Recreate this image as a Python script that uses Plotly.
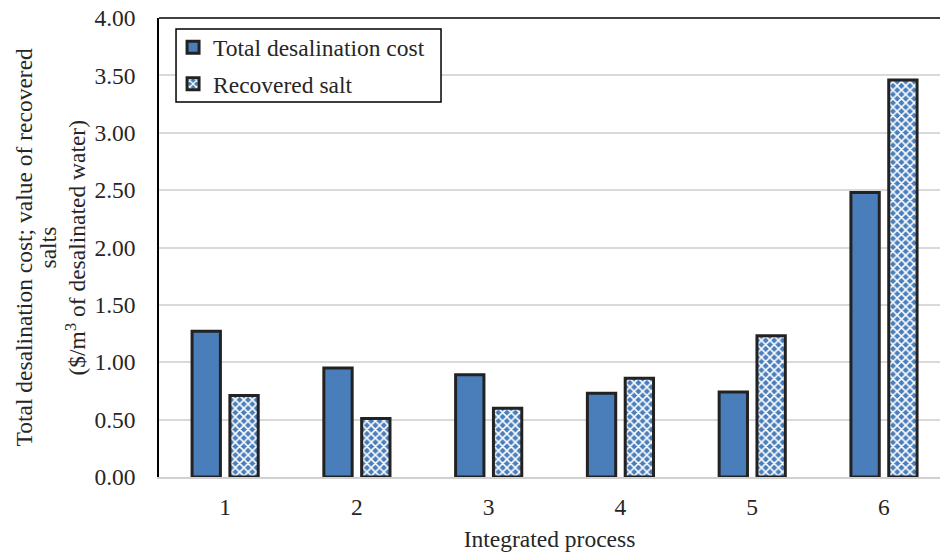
import plotly.graph_objects as go

# Integrated process categories and cost/value figures ($/m3 of desalinated water)
processes = [1, 2, 3, 4, 5, 6]
total_cost = [1.27, 0.95, 0.89, 0.73, 0.74, 2.48]
recovered_salt = [0.71, 0.51, 0.60, 0.86, 1.23, 3.46]
y_ticks = [0, 0.5, 1.0, 1.5, 2.0, 2.5, 3.0, 3.5, 4.0]

BLUE = "#4a7ebb"
EDGE = "#222222"
FONT = "Liberation Serif"
FS = 23.5
TXT = "#262626"

fig = go.Figure()
fig.add_trace(go.Bar(
    x=processes, y=total_cost, name="Total desalination cost",
    width=0.215, offset=-0.25,
    marker=dict(color=BLUE, line=dict(color=EDGE, width=3)),
    legendgroup="a",
))
fig.add_trace(go.Bar(
    x=processes, y=recovered_salt, name="Recovered salt",
    width=0.215, offset=0.037,
    marker=dict(color=BLUE, line=dict(color=EDGE, width=3),
                pattern=dict(shape="x", fgcolor="white", bgcolor=BLUE,
                             size=6, solidity=0.45, fillmode="replace")),
    legendgroup="b",
))

fig.update_layout(
    width=940, height=554,
    margin=dict(l=159, r=0, t=18, b=77),
    plot_bgcolor="white", paper_bgcolor="white",
    font=dict(family=FONT, size=FS, color=TXT),
    showlegend=True,
    barmode="overlay",
    legend=dict(
        x=0.018, y=0.9836, xanchor="left", yanchor="top",
        borderwidth=0, bgcolor="rgba(0,0,0,0)",
        font=dict(family=FONT, size=FS, color=TXT),
        tracegroupgap=3, itemwidth=30,
    ),
    xaxis=dict(
        range=[0.499, 6.426], tickvals=processes,
        ticktext=[str(p) for p in processes],
        showgrid=False, showline=True, linecolor="#d0d0d0", linewidth=1.5,
        ticks="", ticklabelstandoff=8, zeroline=False,
        title=dict(text="Integrated process", standoff=12,
                   font=dict(family=FONT, size=FS)),
    ),
    yaxis=dict(
        range=[0, 4], tickvals=y_ticks,
        ticktext=[f"{v:.2f}" for v in y_ticks],
        showgrid=True, gridcolor="#d9d9d9", gridwidth=1.5,
        showline=True, linecolor="black", linewidth=1.5,
        ticks="", ticklabelstandoff=17, zeroline=False,
    ),
)

# Top border of the plot area
fig.add_shape(type="line", xref="paper", yref="paper", x0=0, x1=1, y0=1, y1=1,
              line=dict(color="black", width=1.5))

# Legend frame: white box with a black outline behind the legend entries
fig.add_shape(type="rect", xref="paper", yref="paper",
              x0=0.0218, x1=0.3611, y0=0.817, y1=0.976,
              fillcolor="white", line=dict(color="black", width=1.5),
              layer="above")

# Three-line vertical axis title
title_lines = [
    ("Total desalination cost; value of recovered", -136),
    ("salts", -112),
    ("($/m<sup>3</sup> of desalinated water)", -84),
]
for text, shift in title_lines:
    fig.add_annotation(
        text=text, xref="paper", yref="paper", x=0, y=0.5,
        xanchor="center", yanchor="middle", xshift=shift,
        textangle=-90, showarrow=False,
        font=dict(family=FONT, size=FS, color=TXT),
    )

fig.write_html("out.html")
